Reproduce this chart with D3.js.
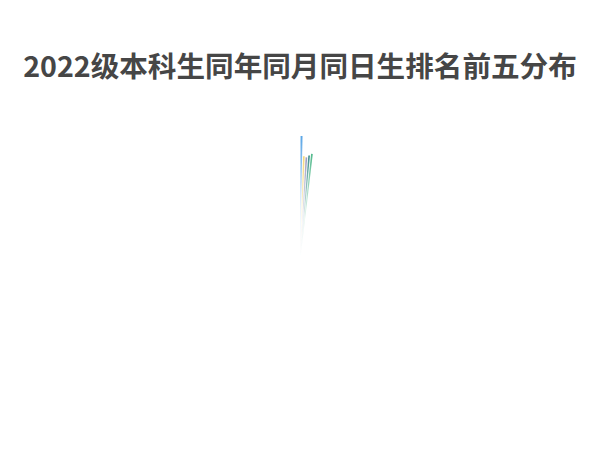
<!DOCTYPE html>
<html><head><meta charset="utf-8">
<script src="https://cdn.jsdelivr.net/npm/d3@7"></script>
<style>body{margin:0;background:#fff;}svg{display:block;}</style>
</head><body>
<script>
const title = "2022级本科生同年同月同日生排名前五分布";
const categories = ["第一","第二","第三","第四","第五"];
const values = [125, 105, 104, 106, 108];
const colors = ["#5aa6e6","#f5d77a","#9c9cc0","#3f8f8a","#52b98c"];
const W = 600, H = 470;
const svg = d3.select("body").append("svg").attr("width", W).attr("height", H);
svg.append("text").attr("x", W/2).attr("y", 64).attr("text-anchor","middle")
  .attr("dominant-baseline","central")
  .style("font-family","'Noto Sans CJK SC', 'Noto Sans', sans-serif")
  .style("font-weight","600").style("font-size","28.6px").attr("fill","#464646").text(title);
const cx = 300, cy = 262;
const r = d3.scaleLinear().domain([0, d3.max(values)]).range([0, 126]);
const sweep = 7 * Math.PI / 180;
const pie = d3.pie().sort(null).value(() => 1).startAngle(0).endAngle(sweep).padAngle(0.5 * Math.PI / 180);
const arcs = pie(values);
const defs = svg.append("defs");
const g = svg.append("g").attr("transform", `translate(${cx},${cy})`);
arcs.forEach((a, i) => {
  const gr = defs.append("radialGradient").attr("id","gr"+i)
    .attr("gradientUnits","userSpaceOnUse").attr("cx",0).attr("cy",0).attr("r", r(values[i]));
  gr.append("stop").attr("offset","0%").attr("stop-color",colors[i]).attr("stop-opacity",0);
  gr.append("stop").attr("offset","40%").attr("stop-color",colors[i]).attr("stop-opacity",0.15);
  gr.append("stop").attr("offset","100%").attr("stop-color",colors[i]).attr("stop-opacity",1);
  g.append("path").attr("d", d3.arc().innerRadius(0).outerRadius(r(values[i]))(a))
    .attr("fill","url(#gr"+i+")");
});
</script>
</body></html>
